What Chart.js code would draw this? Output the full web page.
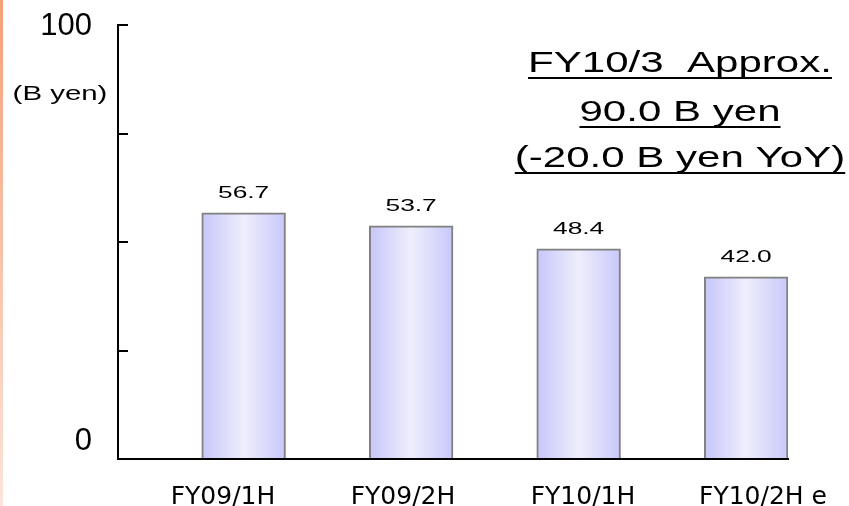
<!DOCTYPE html>
<html>
<head>
<meta charset="utf-8">
<script src="https://cdn.jsdelivr.net/npm/chart.js@4/dist/chart.umd.min.js"></script>
<style>
  html, body { margin: 0; padding: 0; background: #fff; }
  #chartDiv { width: 849px; height: 506px; position: relative; }
</style>
</head>
<body>
<div id="chartDiv"><canvas id="chartArea"></canvas></div>
<script>
// data
var periods = ['FY09/1H', 'FY09/2H', 'FY10/1H', 'FY10/2H e']
var sales = [56.7, 53.7, 48.4, 42.0]
var blanks = [null, null, null, null]   // empty slot so bars sit right of centre
var yLabels = [0, 100]
var unitLabel = '(B yen)'
var noteLines = ['FY10/3  Approx.', '90.0 B yen', '(-20.0 B yen YoY)']

function barFill(c){
  var chart = c.chart
  var xs = chart.scales.x
  if(!xs || xs.width === undefined) return '#d8d8f8'
  var w = xs.width / periods.length
  var x0 = xs.getPixelForValue(c.dataIndex)
  var g = chart.ctx.createLinearGradient(x0, 0, x0 + w / 2, 0)
  g.addColorStop(0, 'rgb(198,198,250)')
  g.addColorStop(0.5, 'rgb(238,238,252)')
  g.addColorStop(1, 'rgb(200,200,250)')
  return g
}

// orange strip down the left edge of the slide
var sideStrip = {
  id: 'sideStrip',
  beforeDraw: function(chart){
    var ctx = chart.ctx
    var g = ctx.createLinearGradient(0, 0, 0, chart.height)
    g.addColorStop(0, 'rgb(245,160,120)')
    g.addColorStop(1, 'rgb(251,228,218)')
    ctx.save()
    ctx.fillStyle = g
    ctx.fillRect(0, 0, 3, chart.height)
    ctx.restore()
  }
}

// value on top of every bar
var valueLabels = {
  id: 'valueLabels',
  afterDatasetsDraw: function(chart){
    var ctx = chart.ctx
    var meta = chart.getDatasetMeta(1)
    meta.data.forEach(function(bar, i){
      ctx.save()
      ctx.translate(bar.x, bar.y - 15)
      ctx.scale(1.55, 1)
      ctx.font = '17px "Liberation Sans"'
      ctx.fillStyle = '#000'
      ctx.textAlign = 'center'
      ctx.textBaseline = 'alphabetic'
      ctx.fillText(sales[i].toFixed(1), 0, 0)
      ctx.restore()
    })
  }
}

// unit text and underlined forecast note
var notes = {
  id: 'notes',
  afterDraw: function(chart){
    var ctx = chart.ctx
    ctx.save()
    ctx.fillStyle = '#000'
    ctx.textAlign = 'center'
    ctx.textBaseline = 'alphabetic'

    ctx.save()
    ctx.translate(60, 100)
    ctx.scale(1.4, 1)
    ctx.font = '21px "Liberation Sans"'
    ctx.fillText(unitLabel, 0, 0)
    ctx.restore()

    var cx = 680
    var base = [72, 121, 167]
    ctx.font = '29px "Liberation Sans"'
    for(var i = 0; i < noteLines.length; i++){
      var w = ctx.measureText(noteLines[i]).width * 1.45
      ctx.save()
      ctx.translate(cx, base[i])
      ctx.scale(1.45, 1)
      ctx.fillText(noteLines[i], 0, 0)
      ctx.restore()
      ctx.fillRect(cx - w / 2, base[i] + 5, w, 2)
    }
    ctx.restore()
  }
}

var ctx = document.getElementById('chartArea').getContext('2d')
var myChart = new Chart(ctx, {
  type: 'bar',
  data: {
    labels: periods,
    datasets: [
      { data: blanks },
      {
        data: sales,
        backgroundColor: barFill,
        borderColor: '#808080',
        borderWidth: 2,
        borderSkipped: 'bottom'
      }
    ]
  },
  options: {
    responsive: true,
    maintainAspectRatio: false,
    animation: false,
    datasets: { bar: { categoryPercentage: 1, barPercentage: 1 } },
    layout: { padding: { top: 25, right: 61, left: 0, bottom: 0 } },
    plugins: { legend: { display: false }, tooltip: { enabled: false } },
    scales: {
      x: {
        type: 'category',
        offset: true,
        grid: { display: true, drawOnChartArea: false, drawTicks: false },
        border: { display: true, color: '#000', width: 2 },
        ticks: { display: false },
        afterFit: function(s){ s.height = 0 }
      },
      // label axis: the slide's period captions are spaced a bit wider than the bars
      x2: {
        type: 'linear',
        display: true,
        position: 'bottom',
        weight: 1,
        offset: false,
        bounds: 'data',
        min: -0.5833,
        max: 3.139,
        grid: { display: false, offset: false },
        border: { display: false },
        afterBuildTicks: function(s){
          s.ticks = periods.map(function(p, i){ return { value: i } })
        },
        ticks: {
          autoSkip: false,
          maxRotation: 0,
          padding: 15,
          color: '#000',
          font: { family: 'DejaVu Sans', size: 25 },
          callback: function(v){ return periods[Math.round(v)] }
        },
        afterFit: function(s){
          s.height = 47
          s.paddingLeft = 0
          s.paddingRight = 0
        }
      },
      y: {
        min: 0,
        max: 100,
        grid: { display: true, drawOnChartArea: false, drawTicks: true, tickLength: -10, color: '#000', lineWidth: 2 },
        border: { display: true, color: '#000', width: 2 },
        ticks: { stepSize: 25, display: false },
        afterFit: function(s){ s.width = 0 }
      },
      // label axis for 0 / 100 (the "0" caption sits a little above the baseline)
      y2: {
        type: 'linear',
        display: true,
        position: 'left',
        weight: 1,
        offset: false,
        bounds: 'data',
        beginAtZero: false,
        min: -4.34,
        max: 100.24,
        grid: { display: false },
        border: { display: false },
        afterBuildTicks: function(s){
          s.ticks = yLabels.map(function(v){ return { value: v } })
        },
        ticks: {
          autoSkip: false,
          padding: 18,
          color: '#000',
          font: { family: 'Liberation Sans', size: 31 },
          callback: function(v){ return String(v) }
        },
        afterFit: function(s){
          s.width = 118
          s.paddingTop = 0
          s.paddingBottom = 0
        }
      }
    }
  },
  plugins: [sideStrip, valueLabels, notes]
})
</script>
</body>
</html>
